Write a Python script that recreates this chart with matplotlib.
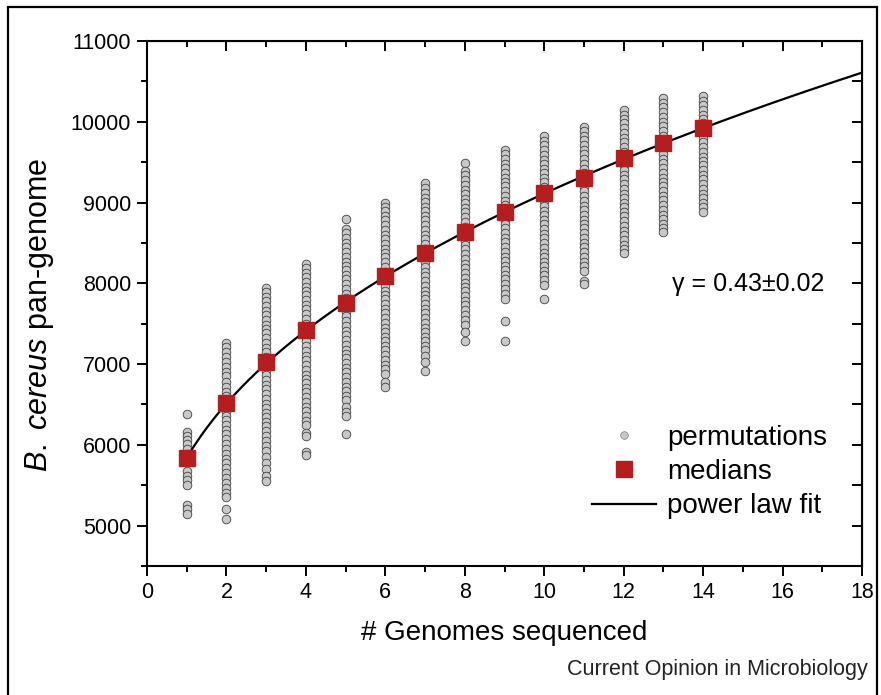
import numpy as np
import matplotlib
matplotlib.use('Agg')
import matplotlib.pyplot as plt
from matplotlib.lines import Line2D
from matplotlib.patches import Rectangle

plt.rcParams['font.family'] = ['Liberation Sans', 'DejaVu Sans']
plt.rcParams['mathtext.fontset'] = 'custom'
plt.rcParams['mathtext.rm'] = 'Liberation Sans'
plt.rcParams['mathtext.it'] = 'Liberation Sans:italic'

# genomes sequenced and median pan-genome size
genomes = [1, 2, 3, 4, 5, 6, 7, 8, 9, 10, 11, 12, 13, 14]
medians = [5840, 6520, 7020, 7420, 7760, 8090, 8380, 8630, 8880, 9120, 9300, 9550, 9740, 9920]

# permutation values per number of genomes
perm_n1 = [6380, 6160, 6110, 6060, 6010, 5950, 5890, 5840, 5790, 5680, 5620, 5560, 5500, 5250, 5200, 5140]
perm_n2 = [7260, 7210, 7150, 7090, 7020, 6960, 6900, 6850, 6780, 6720, 6660, 6600, 6540, 6480, 6420, 6360,
           6310, 6250, 6190, 6130, 6070, 6010, 5950, 5890, 5830, 5770, 5710, 5650, 5590, 5530, 5470, 5410,
           5350, 5210, 5080]
perm_n3 = [7940, 7890, 7830, 7780, 7720, 7660, 7610, 7550, 7490, 7430, 7380, 7320, 7260, 7200, 7150, 7090,
           7030, 6970, 6920, 6860, 6800, 6740, 6690, 6630, 6570, 6510, 6460, 6400, 6340, 6280, 6230, 6170,
           6110, 6050, 5990, 5920, 5850, 5770, 5700, 5620, 5550]
perm_n4 = [8240, 8190, 8130, 8080, 8020, 7960, 7900, 7850, 7790, 7730, 7680, 7620, 7560, 7500, 7450, 7390,
           7330, 7280, 7220, 7160, 7100, 7050, 6990, 6930, 6870, 6820, 6760, 6700, 6650, 6590, 6530, 6470,
           6420, 6360, 6300, 6240, 6150, 6110, 5910, 5870]
perm_n5 = [8800, 8670, 8620, 8560, 8500, 8450, 8390, 8330, 8270, 8220, 8160, 8100, 8050, 7990, 7930, 7870,
           7820, 7760, 7700, 7640, 7590, 7530, 7470, 7410, 7360, 7300, 7240, 7180, 7130, 7070, 7010, 6950,
           6900, 6840, 6780, 6720, 6670, 6610, 6550, 6470, 6410, 6360, 6140]
perm_n6 = [9000, 8950, 8890, 8830, 8780, 8720, 8660, 8600, 8550, 8490, 8430, 8370, 8320, 8260, 8200, 8140,
           8090, 8030, 7970, 7910, 7860, 7800, 7740, 7680, 7630, 7570, 7510, 7450, 7400, 7340, 7280, 7220,
           7170, 7110, 7050, 6990, 6940, 6880, 6780, 6720]
perm_n7 = [9240, 9180, 9120, 9060, 9010, 8950, 8890, 8830, 8780, 8720, 8660, 8600, 8550, 8490, 8430, 8370,
           8320, 8260, 8200, 8140, 8090, 8030, 7970, 7910, 7860, 7800, 7740, 7680, 7630, 7570, 7510, 7450,
           7400, 7340, 7280, 7220, 7170, 7100, 7020, 6920]
perm_n8 = [9490, 9390, 9340, 9280, 9220, 9160, 9110, 9050, 8990, 8930, 8880, 8820, 8760, 8700, 8650, 8590,
           8530, 8470, 8420, 8360, 8300, 8240, 8190, 8130, 8070, 8010, 7960, 7900, 7840, 7780, 7730, 7670,
           7610, 7550, 7490, 7400, 7280]
perm_n9 = [9650, 9600, 9540, 9480, 9430, 9370, 9310, 9250, 9200, 9140, 9080, 9020, 8970, 8910, 8850, 8790,
           8740, 8680, 8620, 8560, 8510, 8450, 8390, 8330, 8280, 8220, 8160, 8100, 8050, 7990, 7930, 7870,
           7800, 7530, 7280]
perm_n10 = [9820, 9760, 9710, 9650, 9590, 9530, 9480, 9420, 9360, 9300, 9250, 9190, 9130, 9070, 9020, 8960,
            8900, 8840, 8790, 8730, 8670, 8610, 8560, 8500, 8440, 8380, 8330, 8270, 8210, 8150, 8100, 8040,
            7980, 7800]
perm_n11 = [9940, 9880, 9830, 9770, 9710, 9650, 9600, 9540, 9480, 9420, 9370, 9310, 9250, 9190, 9140, 9080,
            9020, 8960, 8910, 8850, 8790, 8730, 8680, 8620, 8560, 8500, 8450, 8390, 8330, 8270, 8210, 8150,
            8030, 7990]
perm_n12 = [10150, 10090, 10030, 9980, 9920, 9860, 9800, 9750, 9690, 9630, 9570, 9520, 9460, 9400, 9340, 9290,
            9230, 9170, 9110, 9060, 9000, 8940, 8880, 8830, 8770, 8710, 8650, 8600, 8540, 8480, 8420, 8370]
perm_n13 = [10290, 10230, 10180, 10120, 10060, 10000, 9950, 9890, 9830, 9770, 9720, 9660, 9600, 9540, 9490,
            9430, 9370, 9310, 9260, 9200, 9140, 9080, 9030, 8970, 8910, 8850, 8800, 8740, 8680, 8640]
perm_n14 = [10320, 10260, 10210, 10150, 10090, 10030, 9980, 9920, 9860, 9800, 9750, 9690, 9630, 9570, 9520,
            9460, 9400, 9340, 9290, 9230, 9170, 9110, 9060, 9000, 8940, 8880]

permutations = [perm_n1, perm_n2, perm_n3, perm_n4, perm_n5, perm_n6, perm_n7,
                perm_n8, perm_n9, perm_n10, perm_n11, perm_n12, perm_n13, perm_n14]

# power law fit  n = kappa * N^gamma + offset
fit_kappa = 1934
fit_gamma = 0.43
fit_offset = 3906
fit_range = (1, 18)

fig = plt.figure(figsize=(8.81, 6.95), dpi=100)
ax = fig.add_axes([0.1669, 0.1856, 0.8115, 0.7554])

red = '#b41e1e'

for n, vals in zip(genomes, permutations):
    ax.plot([n] * len(vals), vals, 'o', ms=6.2, mfc='#c8c8c8', mec='#404040', mew=0.6,
            ls='none', zorder=2)

xs = np.linspace(fit_range[0], fit_range[1], 200)
ax.plot(xs, fit_kappa * xs ** fit_gamma + fit_offset, color='black', lw=1.6, zorder=3)
ax.plot(genomes, medians, 's', ms=11, color=red, mec=red, ls='none', zorder=4)

ax.set_xlim(0, 18)
ax.set_ylim(4500, 11000)
ax.set_xticks(range(0, 19, 2))
ax.set_xticks(range(1, 18, 2), minor=True)
ax.set_yticks(range(5000, 11001, 1000))
ax.set_yticks(range(4500, 11000, 1000), minor=True)
ax.tick_params(which='major', direction='out', length=7.5, width=1.4, labelsize=15.5, pad=4)
ax.tick_params(which='minor', direction='out', length=4, width=1.4)
for s in ax.spines.values():
    s.set_linewidth(1.5)

top = ax.secondary_xaxis('top')
top.set_xticks(range(0, 19, 2))
top.set_xticks(range(1, 18, 2), minor=True)
top.tick_params(which='major', direction='in', length=7.5, width=1.4, labeltop=False)
top.tick_params(which='minor', direction='in', length=4, width=1.4)
top.set_xticklabels([])
right = ax.secondary_yaxis('right')
right.set_yticks(range(5000, 11001, 1000))
right.set_yticks(range(4500, 11000, 1000), minor=True)
right.tick_params(which='both', direction='in', length=7.5, width=1.4, labelright=False)
right.set_yticklabels([])

ax.set_xlabel('# Genomes sequenced', fontsize=20, labelpad=12)
ax.set_ylabel(r'$\mathit{B.}$ $\mathit{cereus}$ pan-genome', fontsize=22)
ax.yaxis.set_label_coords(-0.128, 0.478)

ax.text(0.948, 0.537, 'γ = 0.43±0.02', transform=ax.transAxes, fontsize=18,
        ha='right', va='center')

handles = [
    Line2D([], [], marker='o', ls='none', ms=5.5, mfc='#c8c8c8', mec='#808080', mew=0.5),
    Line2D([], [], marker='s', ls='none', ms=11, color=red),
    Line2D([], [], color='black', lw=1.6),
]
ax.legend(handles, ['permutations', 'medians', 'power law fit'], loc='center left',
          bbox_to_anchor=(0.622, 0.179), frameon=False, fontsize=20, borderpad=0,
          borderaxespad=0, handlelength=2.3, handletextpad=0.4, labelspacing=0.3)

fig.text(0.985, 0.036, 'Current Opinion in Microbiology', fontsize=15.5, ha='right',
         va='center', color='#222222')

fig.patches.append(Rectangle((0.0096, -0.02), 0.9858, 1.0093, transform=fig.transFigure,
                             fill=False, edgecolor='black', lw=1.6))

fig.savefig('out.png', dpi=100)
